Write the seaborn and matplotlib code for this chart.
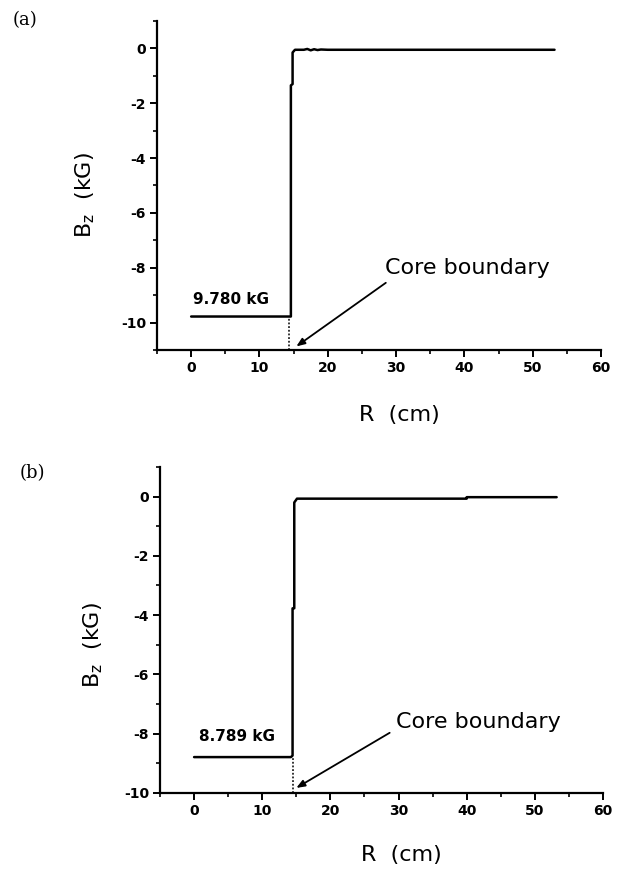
import matplotlib
matplotlib.use("Agg")
import matplotlib.pyplot as plt
import seaborn as sns
import pandas as pd
from matplotlib.ticker import MultipleLocator

# ---- data ----
R_a = [0, 14.6, 14.6, 14.85, 14.85, 15.2, 16.5, 17.0, 17.5, 18.0, 18.5, 19.0, 20.0, 53.2]
Bz_a = [-9.78, -9.78, -1.35, -1.30, -0.15, -0.05, -0.05, -0.02, -0.07, -0.03, -0.06, -0.04, -0.05, -0.05]
R_b = [0, 14.2, 14.45, 14.45, 14.7, 14.7, 15.1, 40.0, 40.0, 53.2]
Bz_b = [-8.79, -8.79, -8.74, -3.77, -3.77, -0.2, -0.07, -0.07, -0.02, -0.02]
core_a = 14.3
core_b = 14.5
label_a = "9.780 kG"
label_b = "8.789 kG"
xticks = [0, 10, 20, 30, 40, 50, 60]
yticks_a = [0, -2, -4, -6, -8, -10]
yticks_b = [0, -2, -4, -6, -8, -10]

sns.set_style("ticks")
plt.rcParams['font.family'] = ['DejaVu Sans']
plt.rcParams['axes.unicode_minus'] = False
plt.rcParams['mathtext.default'] = 'regular'
for k in ['text.color', 'axes.labelcolor', 'xtick.color', 'ytick.color', 'axes.edgecolor']:
    plt.rcParams[k] = 'black'

fig = plt.figure(figsize=(6.27, 8.71), dpi=100)
ax_a = fig.add_axes([0.2504, 0.5982, 0.7081, 0.3777])
ax_b = fig.add_axes([0.2552, 0.0896, 0.7065, 0.3743])

specs = [
    (ax_a, R_a, Bz_a, core_a, label_a, (-11, 1), yticks_a, (0.3, -9.15), (28.4, -8.0), (28.5, -8.55), (15.4, -10.87), 0.471, -0.135, -0.167, "(a)", 0.02, 0.977),
    (ax_b, R_b, Bz_b, core_b, label_b, (-10, 1), yticks_b, (0.7, -8.1), (29.6, -7.6), (28.7, -7.97), (15.0, -9.83), 0.454, -0.124, -0.16, "(b)", 0.032, 0.457),
]

for (ax, R, Bz, core, lab, ylim, yt, labpos, txtpos, arr_start, arr_end,
     ylab_y, ylab_x, xlab_y, panel, panel_x, panel_y) in specs:
    df = pd.DataFrame({"R": R, "Bz": Bz})
    sns.lineplot(data=df, x="R", y="Bz", ax=ax, sort=False, estimator=None,
                 color="black", linewidth=1.8)
    # dotted core boundary line
    ax.plot([core, core], [ylim[0], Bz[1]], color="black", linestyle=(0, (1.2, 1.2)), linewidth=1.1)
    ax.set_xlim(-5, 60)
    ax.set_ylim(*ylim)
    ax.set_xticks(xticks)
    ax.set_yticks(yt)
    ax.xaxis.set_minor_locator(MultipleLocator(5))
    ax.yaxis.set_minor_locator(MultipleLocator(1))
    for s in ["top", "right"]:
        ax.spines[s].set_visible(False)
    for s in ["left", "bottom"]:
        ax.spines[s].set_linewidth(1.6)
    ax.tick_params(which="major", length=5, width=1.4, direction="out", labelsize=10, pad=3)
    ax.tick_params(which="minor", length=3, width=1.2, direction="out")
    for t in ax.get_xticklabels() + ax.get_yticklabels():
        t.set_fontweight("bold")
    ax.set_xlabel("R  (cm)", fontsize=16)
    ax.set_ylabel(r"B$_{z}$  (kG)", fontsize=16)
    ax.xaxis.set_label_coords(0.545, xlab_y)
    ax.yaxis.set_label_coords(ylab_x, ylab_y)
    ax.text(labpos[0], labpos[1], lab, fontsize=11, fontweight="bold", va="center", ha="left")
    ax.text(txtpos[0], txtpos[1], "Core boundary", fontsize=16, va="center", ha="left")
    ax.annotate("", xy=arr_end, xytext=arr_start,
                arrowprops=dict(arrowstyle="-|>,head_length=0.5,head_width=0.2",
                                color="black", lw=1.3, shrinkA=0, shrinkB=0))
    fig.text(panel_x, panel_y, panel, fontsize=13,
             family=["DejaVu Serif"], va="center", ha="left")

fig.savefig("out.png", dpi=100)
